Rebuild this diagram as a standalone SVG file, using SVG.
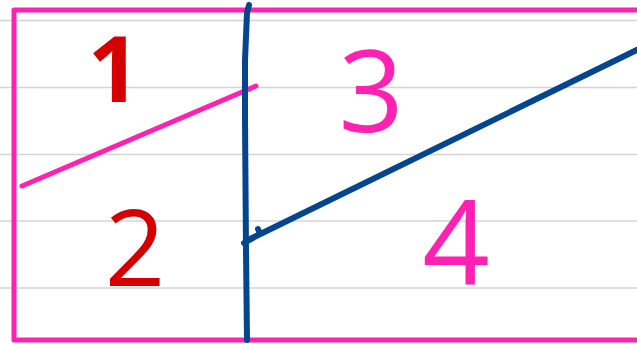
<svg xmlns="http://www.w3.org/2000/svg" width="637" height="344" viewBox="0 0 637 344">
<style>
.rule{stroke:#d4d4d4;stroke-width:1.5;fill:none}
.pink{stroke:#ff22b2;stroke-width:5;fill:none;stroke-linecap:round;stroke-linejoin:round}
.blue{stroke:#03468f;stroke-width:6;fill:none;stroke-linecap:round;stroke-linejoin:round}
.num{font-family:"Open Sans","Lato","Liberation Sans",sans-serif;font-weight:400;text-anchor:middle}
.red{fill:#d40000}
.pk{fill:#ff22b2}
</style>
<rect width="637" height="344" fill="#ffffff"/>
<g id="ruled-lines">
<line class="rule" x1="0" y1="20.5" x2="637" y2="20.5"/>
<line class="rule" x1="0" y1="87.5" x2="637" y2="87.5"/>
<line class="rule" x1="0" y1="154.5" x2="637" y2="154.5"/>
<line class="rule" x1="0" y1="221" x2="637" y2="221"/>
<line class="rule" x1="0" y1="288" x2="637" y2="288"/>
</g>
<g id="frame">
<path class="pink" d="M640 10 L14 10 L14 340 L640 340" stroke-linecap="butt"/>
</g>
<g id="connectors">
<path id="pink-diagonal" class="pink" d="M22 186 L256 86"/>
<path id="blue-vertical" class="blue" d="M249 5 L247 13 L245 60 L245 120 L246 250 L247 340"/>
<path id="blue-diagonal" class="blue" d="M244 243 L260 234 L258 229 M246 241 L645 46"/>
</g>
<g id="region-1"><text class="num red" x="114" y="102" font-size="92" style="font-weight:700">1</text></g>
<g id="region-2"><text class="num red" x="135" y="286" font-size="106">2</text></g>
<g id="region-3"><text class="num pk" x="371" y="132" font-size="114">3</text></g>
<g id="region-4"><text class="num pk" x="456" y="284" font-size="118">4</text></g>
</svg>
